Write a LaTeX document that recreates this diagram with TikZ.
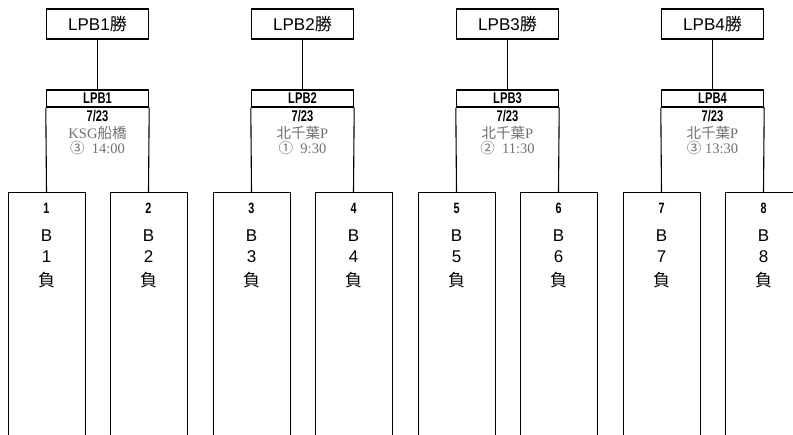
\documentclass[tikz,border=0pt]{standalone}
\usepackage{fontspec}
\setmainfont{Liberation Sans}
\newfontfamily\cjk{Noto Sans CJK JP}
\newfontfamily\nb[FakeStretch=0.72]{Liberation Sans}
\newfontfamily\sr{Liberation Serif}
\definecolor{txtgray}{HTML}{707070}
\tikzset{
 winbox/.style={draw,line width=1.4pt,minimum width=102pt,minimum height=30pt,inner sep=0pt,font=\fontsize{17}{17}\selectfont},
 hdrbox/.style={draw,line width=1.4pt,minimum width=102pt,minimum height=17pt,inner sep=0pt,font=\nb\bfseries\fontsize{15.5}{15.5}\selectfont},
 leafbox/.style={draw,line width=0.9pt,minimum width=77pt,minimum height=280pt,inner sep=0pt,anchor=north},
 conn/.style={line width=1.1pt},
 datet/.style={inner sep=0pt,font=\nb\bfseries\fontsize{15.5}{15.5}\selectfont},
 placet/.style={inner sep=0pt,text=txtgray,font=\sr\fontsize{14.5}{14.5}\selectfont},
 numt/.style={inner sep=0pt,font=\nb\bfseries\fontsize{15}{15}\selectfont},
 leaft/.style={inner sep=0pt,font=\fontsize{17}{17}\selectfont},
}
\newcommand\grp[3]{%
 \pgfmathsetmacro\ox{205*(#1-1)}%
 \pgfmathtruncatemacro\na{2*#1-1}%
 \pgfmathtruncatemacro\nbb{2*#1}%
 \node[winbox] (w#1) at (\ox+97.5,24) {LPB#1{\cjk 勝}};
 \node[hdrbox] (m#1) at (\ox+97.5,98.5) {LPB#1};
 \node[leafbox] (la#1) at (\ox+46.5,192) {};
 \node[leafbox] (lb#1) at (\ox+148.5,192) {};
 \draw[conn] (w#1.south) -- (m#1.north);
 \draw[conn] (la#1.north) -- (m#1.south west);
 \draw[conn] (lb#1.north) -- (m#1.south east);
 \node[datet] (d#1) at (\ox+97.5,116) {7/23};
 \node[placet] (p#1) at (\ox+97.5,133) {#2};
 \node[placet] (t#1) at (\ox+97.5,148) {#3};
 \node[numt] (na#1) at (\ox+46.5,208) {\na};
 \node[leaft] (ba#1) at (\ox+46.5,236) {B};
 \node[leaft] (ca#1) at (\ox+46.5,257) {\na};
 \node[leaft] (fa#1) at (\ox+46.5,280) {\cjk 負};
 \node[numt] (nb#1) at (\ox+148.5,208) {\nbb};
 \node[leaft] (bb#1) at (\ox+148.5,236) {B};
 \node[leaft] (cb#1) at (\ox+148.5,257) {\nbb};
 \node[leaft] (fb#1) at (\ox+148.5,280) {\cjk 負};
}
\begin{document}
\begin{tikzpicture}[x=1pt,y=-1pt]
\useasboundingbox (0,0) rectangle (793,435);
\fill[white] (0,0) rectangle (793,435);
\clip (0,0) rectangle (793,435);
\grp{1}{KSG{\cjk 船橋}}{{\cjk ③}\ \ 14:00}
\grp{2}{{\cjk 北千葉}P}{{\cjk ①}\ \ 9:30}
\grp{3}{{\cjk 北千葉}P}{{\cjk ②}\ \ 11:30}
\grp{4}{{\cjk 北千葉}P}{{\cjk ③}\ 13:30}
\end{tikzpicture}
\end{document}
